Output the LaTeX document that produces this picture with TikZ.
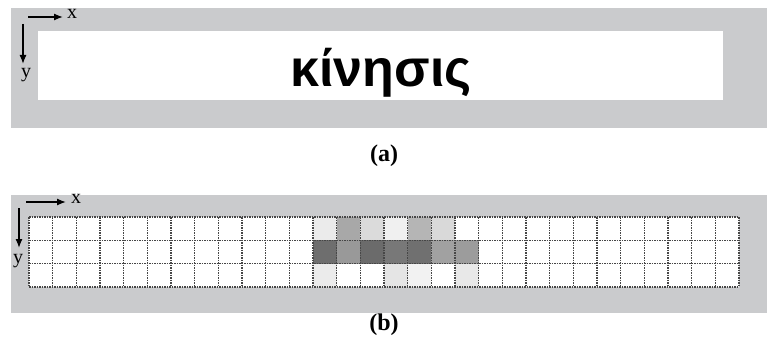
\documentclass[tikz,border=0pt]{standalone}
\usepackage{fontspec}
\setmainfont{Liberation Serif}
\newfontfamily\handfont{Liberation Sans}
\usetikzlibrary{arrows.meta,positioning}
\definecolor{panelGray}{RGB}{202,203,205}
\definecolor{dotGray}{RGB}{70,70,70}

\begin{document}
\begin{tikzpicture}[x=1pt,y=-1pt,
    panel/.style={fill=panelGray,draw=none},
    axis/.style={-{Latex[length=9pt,width=7pt]},line width=1.3pt},
    axislabel/.style={font=\fontsize{20}{20}\selectfont,inner sep=0pt},
    caption/.style={font=\fontsize{24}{24}\selectfont\bfseries,inner sep=0pt},
    gridline/.style={densely dotted,line width=1.5pt,draw=dotGray}
  ]
    \useasboundingbox (0,0) rectangle (767,350);
    \fill[white] (0,0) rectangle (767,350);

    % (a) binarised word
    \fill[panel] (11,8) rectangle (767,128);
    \fill[white] (38,31) rectangle (723,100);
    \node[anchor=base,inner sep=0pt,font=\handfont\bfseries\fontsize{52}{52}\selectfont] (word) at (381,87) {κίνησις};

    \coordinate (ax0) at (28,17);
    \coordinate (ax1) at (63,17);
    \coordinate (ay0) at (23,24);
    \coordinate (ay1) at (23,64);
    \draw[axis] (ax0) -- (ax1);
    \draw[axis] (ay0) -- (ay1);
    \node[axislabel,anchor=west] (xa) at (67,14) {x};
    \node[axislabel] (ya) at (26,75) {y};
    \node[caption] (capa) at (384,156) {(a)};

    % (b) grid of cells
    \fill[panel] (11,195) rectangle (767,313);
    \fill[white] (29,217) rectangle (739,287);
    \foreach \c/\r/\g in {12/0/8,13/0/34,14/0/14,15/0/6,16/0/29,17/0/15,
                          12/1/57,13/1/40,14/1/58,15/1/53,16/1/56,17/1/37,18/1/39,
                          12/2/8,15/2/10,16/2/5,18/2/9}
      \fill[black!\g] (29+23.667*\c,217+23.333*\r) rectangle ++(23.667,23.333);
    \foreach \i in {0,...,30}
      \draw[gridline] (29+23.667*\i,217) -- ++(0,70);
    \foreach \j in {0,...,3}
      \draw[gridline] (29,217+23.333*\j) -- ++(710,0);

    \coordinate (bx0) at (26,202);
    \coordinate (bx1) at (66,202);
    \coordinate (by0) at (19,208);
    \coordinate (by1) at (19,248);
    \draw[axis] (bx0) -- (bx1);
    \draw[axis] (by0) -- (by1);
    \node[axislabel,anchor=west] (xb) at (71,199) {x};
    \node[axislabel] (yb) at (18,261) {y};
    \node[caption] (capb) at (384,325) {(b)};
  \end{tikzpicture}
\end{document}
